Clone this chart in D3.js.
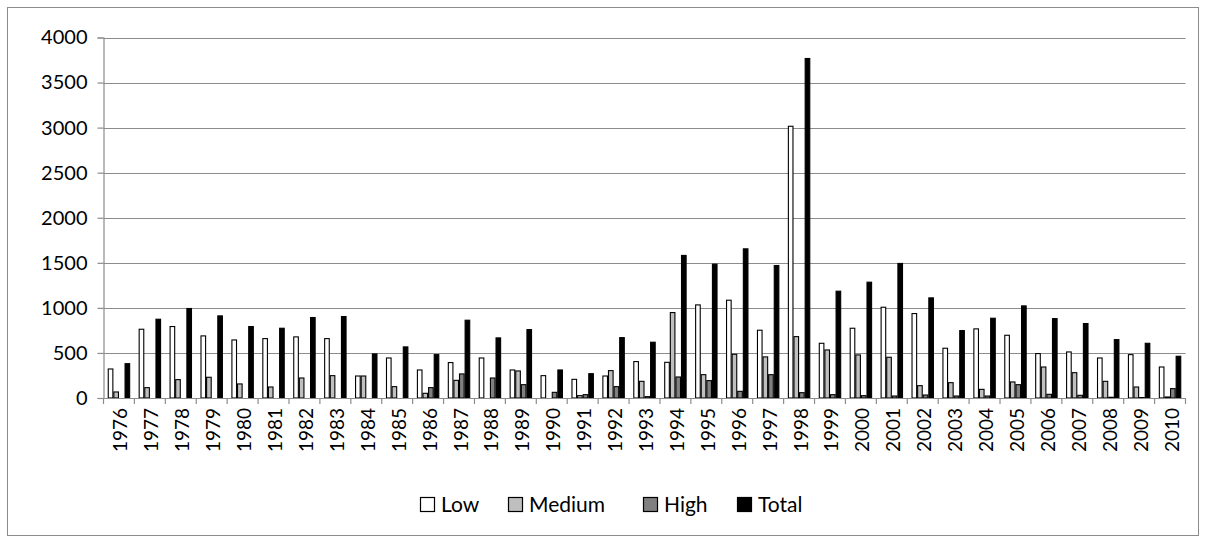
<!DOCTYPE html>
<html>
<head>
<meta charset="utf-8">
<script src="https://cdn.jsdelivr.net/npm/d3@7/dist/d3.min.js"></script>
<style>
  html, body { margin: 0; padding: 0; background: #fff; }
  svg text { font-family: Lato, "Open Sans", "Liberation Sans", sans-serif; fill: #000; }
</style>
</head>
<body>
<svg id="chart" width="1208" height="540"></svg>
<script>
const years = ["1976","1977","1978","1979","1980","1981","1982","1983","1984","1985",
  "1986","1987","1988","1989","1990","1991","1992","1993","1994","1995","1996","1997",
  "1998","1999","2000","2001","2002","2003","2004","2005","2006","2007","2008","2009","2010"];

const lowValues    = [322,763,793,689,644,659,678,659,244,444,311,393,444,311,248,207,244,404,396,1033,1085,752,3015,607,774,1007,937,552,767,696,493,511,444,481,344];
const mediumValues = [67,115,204,230,156,122,222,248,244,126,52,196,0,300,0,26,304,185,948,259,485,456,681,533,478,452,137,170,96,178,344,281,185,122,11];
const highValues   = [0,0,0,0,0,0,0,0,0,0,115,267,222,148,63,37,126,15,233,193,74,259,59,37,26,22,33,22,22,148,41,30,8,5,104];
const totalValues  = [381,874,993,911,793,774,893,904,489,567,481,863,667,759,311,270,670,619,1582,1485,1655,1470,3767,1185,1285,1493,1111,748,885,1022,881,826,648,607,463];

const seriesNames = ["Low","Medium","High","Total"];
const seriesColors = ["#ffffff","#bfbfbf","#808080","#000000"];
const yTicks = [0,500,1000,1500,2000,2500,3000,3500,4000];

const seriesValues = [lowValues, mediumValues, highValues, totalValues];

const svg = d3.select("#chart");

// outer chart frame
svg.append("rect")
  .attr("x", 7.5).attr("y", 7.5)
  .attr("width", 1191).attr("height", 528)
  .attr("fill", "#fff").attr("stroke", "#8c8c8c").attr("stroke-width", 1);

const plot = { left: 103.5, right: 1185.5, top: 37.5, bottom: 398 };

const x = d3.scaleBand().domain(years).range([plot.left, plot.right]).padding(0);
const xs = d3.scaleBand().domain(seriesNames).range([0, x.bandwidth()])
  .paddingInner(0).paddingOuter(0.76);
const y = d3.scaleLinear().domain([0, 4000]).range([plot.bottom, plot.top]);

// horizontal gridlines
svg.append("g")
  .selectAll("line")
  .data(yTicks.filter(d => d > 0))
  .join("line")
  .attr("x1", plot.left).attr("x2", plot.right)
  .attr("y1", d => Math.round(y(d)) + 0.5).attr("y2", d => Math.round(y(d)) + 0.5)
  .attr("stroke", "#8c8c8c").attr("stroke-width", 1.2);

// y axis
const yAxis = d3.axisLeft(y).tickValues(yTicks).tickFormat(d3.format("d")).tickSize(6).tickPadding(10);
const gy = svg.append("g").attr("transform", `translate(${plot.left},0)`).call(yAxis);
gy.select(".domain").attr("stroke", "#8c8c8c").attr("stroke-width", 1.2);
gy.selectAll(".tick line").attr("stroke", "#8c8c8c").attr("stroke-width", 1.2);
gy.selectAll(".tick text").attr("font-size", 20).attr("fill", "#000");

// bars
const rows = years.map((yr, i) => ({ year: yr, vals: seriesNames.map((s, j) => ({ s, j, v: seriesValues[j][i] })) }));
const groups = svg.append("g").selectAll("g")
  .data(rows)
  .join("g")
  .attr("transform", d => `translate(${x(d.year)},0)`);

groups.selectAll("rect")
  .data(d => d.vals)
  .join("rect")
  .attr("x", d => xs(d.s) + 0.5)
  .attr("width", xs.bandwidth() - 1)
  .attr("y", d => y(d.v))
  .attr("height", d => Math.max(0, y(0) - y(d.v)))
  .attr("fill", d => seriesColors[d.j])
  .attr("stroke", "#000")
  .attr("stroke-width", 1.1);

// x axis
const xAxis = d3.axisBottom(x).tickSize(0).tickPadding(0);
const gx = svg.append("g").attr("transform", `translate(0,${plot.bottom})`).call(xAxis);
gx.select(".domain").attr("stroke", "#8c8c8c").attr("stroke-width", 1.2);
gx.selectAll(".tick text")
  .attr("font-size", 19)
  .attr("fill", "#000")
  .attr("text-anchor", "end")
  .attr("dy", null)
  .attr("transform", "translate(1,10) rotate(-90)")
  .attr("x", 0).attr("y", 0)
  .attr("dominant-baseline", "central");

// boundary ticks between categories
svg.append("g")
  .selectAll("line")
  .data(d3.range(years.length + 1))
  .join("line")
  .attr("x1", i => plot.left + i * x.step())
  .attr("x2", i => plot.left + i * x.step())
  .attr("y1", plot.bottom).attr("y2", plot.bottom + 6)
  .attr("stroke", "#8c8c8c").attr("stroke-width", 1.2);

// legend
const legendItems = [
  { name: "Low", x: 420 },
  { name: "Medium", x: 508 },
  { name: "High", x: 643 },
  { name: "Total", x: 737 }
];
const lg = svg.append("g").selectAll("g")
  .data(legendItems)
  .join("g")
  .attr("transform", d => `translate(${d.x},0)`);
lg.append("rect")
  .attr("x", 0.5).attr("y", 497.5)
  .attr("width", 14).attr("height", 14)
  .attr("fill", (d, i) => seriesColors[i])
  .attr("stroke", "#000").attr("stroke-width", 1.2);
lg.append("text")
  .attr("x", 21).attr("y", 512)
  .attr("font-size", 21)
  .text(d => d.name);
</script>
</body>
</html>
